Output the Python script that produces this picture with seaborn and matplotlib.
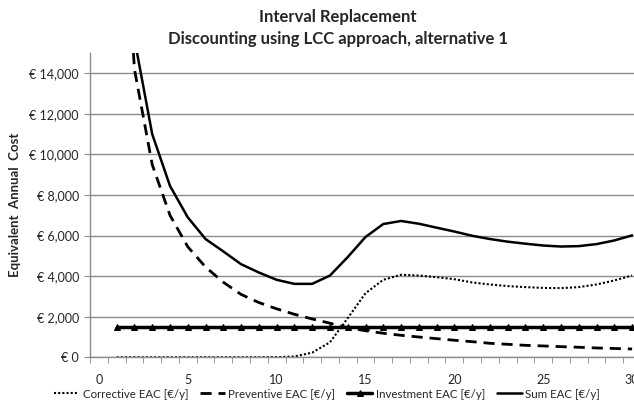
import numpy as np
import pandas as pd
import matplotlib
matplotlib.use("Agg")
import matplotlib.pyplot as plt
from matplotlib.ticker import FuncFormatter, MultipleLocator
import seaborn as sns

# ── Data ──────────────────────────────────────────────────────────────────────

years = list(range(1, 31))

corrective = [0, 0, 0, 0, 0, 0, 0, 0, 0, 10, 40, 230, 740, 1930, 3160,
              3820, 4070, 4030, 3950, 3850, 3690, 3590, 3510, 3460, 3420,
              3410, 3460, 3590, 3790, 4030]

preventive = [28400, 14200, 9500, 7000, 5450, 4450, 3700, 3100, 2700, 2390,
              2120, 1890, 1680, 1460, 1310, 1185, 1085, 1000, 920, 840,
              770, 690, 640, 590, 560, 525, 495, 460, 435, 410]

investment = [1500] * 30

total = [29900, 15700, 11000, 8450, 6900, 5830, 5220, 4590, 4180, 3820,
         3620, 3620, 4030, 4940, 5930, 6570, 6720, 6585, 6390, 6200,
         5990, 5830, 5700, 5600, 5510, 5460, 5480, 5580, 5760, 6010]

labels = ["Corrective EAC [€/y]", "Preventive EAC [€/y]",
          "Investment EAC [€/y]", "Sum EAC [€/y]"]

# ── Style ─────────────────────────────────────────────────────────────────────

sns.set_style("white")
plt.rcParams["font.family"] = ["Lato", "DejaVu Sans"]

GRID = "#8c8c8c"

fig = plt.figure(figsize=(6.34, 4.09), dpi=100)
ax = fig.add_axes([90 / 634, 0.1264, (641 - 90) / 634, 0.744])

df = pd.DataFrame({"year": years, "corr": corrective, "prev": preventive,
                   "inv": investment, "sum": total})

sns.lineplot(data=df, x="year", y="corr", ax=ax, color="black", lw=1.5,
             linestyle=(0, (1, 1)), label=labels[0])
sns.lineplot(data=df, x="year", y="prev", ax=ax, color="black", lw=2,
             linestyle=(0, (4, 2.5)), label=labels[1])
sns.lineplot(data=df, x="year", y="inv", ax=ax, color="black", lw=2.5,
             marker="^", markersize=5, markeredgecolor="black", label=labels[2])
sns.lineplot(data=df, x="year", y="sum", ax=ax, color="black", lw=1.8,
             label=labels[3])

ax.set_xlim(-0.5, 30.5)
ax.set_ylim(0, 15000)

# axes / grid
for side in ["top", "right"]:
    ax.spines[side].set_visible(False)
for side in ["left", "bottom"]:
    ax.spines[side].set_color(GRID)
    ax.spines[side].set_linewidth(1)

ax.yaxis.set_major_locator(MultipleLocator(2000))
ax.yaxis.set_major_formatter(FuncFormatter(lambda v, _: f"€ {v:,.0f}"))
ax.grid(axis="y", color=GRID, lw=1)
ax.set_axisbelow(True)

ax.set_xticks(range(0, 31, 5))
ax.set_xticks(np.arange(-0.5, 31, 1), minor=True)
ax.tick_params(axis="x", which="major", length=0, pad=12, labelsize=9)
ax.tick_params(axis="x", which="minor", length=4, color=GRID, direction="out",
               bottom=True)
ax.tick_params(axis="y", length=4, color=GRID, direction="out", left=True,
               labelsize=9, pad=4)

ax.set_xlabel("")
ax.set_ylabel("Equivalent  Annual  Cost", fontsize=9.5, fontweight="bold",
              labelpad=6)

fig.suptitle("Interval Replacement\nDiscounting using LCC approach, alternative 1",
             x=338 / 634, y=0.978, fontsize=12, fontweight="bold",
             linespacing=1.5)

handles, labs = ax.get_legend_handles_labels()
ax.get_legend().remove()
fig.legend(handles, labs, loc="center", bbox_to_anchor=(327 / 634, 1 - 394 / 409),
           ncol=4, frameon=False, fontsize=8.3, handlelength=2.2,
           columnspacing=1.0, handletextpad=0.3)

fig.savefig("out.png", dpi=100)
